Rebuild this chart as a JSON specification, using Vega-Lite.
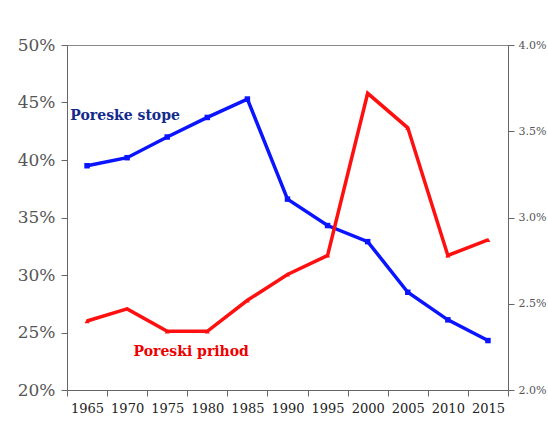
{
  "$schema": "https://vega.github.io/schema/vega-lite/v6.json",
  "autosize": {"type": "none"},
  "width": 441,
  "height": 345,
  "padding": {"left": 67, "top": 45, "right": 40, "bottom": 52},
  "background": "white",
  "config": {
    "font": "DejaVu Serif",
    "view": {"stroke": "#888", "strokeWidth": 1},
    "axis": {"grid": false, "labelFont": "DejaVu Serif", "domainColor": "#666", "tickColor": "#666", "tickSize": 6, "title": null}
  },
  "data": {
    "values": [
      {"year": "1965", "stope": 0.395, "prihod": 0.0240},
      {"year": "1970", "stope": 0.402, "prihod": 0.0247},
      {"year": "1975", "stope": 0.420, "prihod": 0.0234},
      {"year": "1980", "stope": 0.437, "prihod": 0.0234},
      {"year": "1985", "stope": 0.453, "prihod": 0.0252},
      {"year": "1990", "stope": 0.366, "prihod": 0.0267},
      {"year": "1995", "stope": 0.343, "prihod": 0.0278},
      {"year": "2000", "stope": 0.329, "prihod": 0.0372},
      {"year": "2005", "stope": 0.285, "prihod": 0.0352},
      {"year": "2010", "stope": 0.261, "prihod": 0.0278},
      {"year": "2015", "stope": 0.243, "prihod": 0.0287}
    ]
  },
  "encoding": {
    "x": {
      "field": "year", "type": "ordinal", "bandPosition": 0.5,
      "scale": {"type": "band", "paddingInner": 0, "paddingOuter": 0},
      "axis": {"tickBand": "extent", "labelAngle": 0, "labelFontSize": 13, "labelColor": "#222", "labelPadding": 6}
    }
  },
  "layer": [
    {
      "layer": [
        {
          "mark": {"type": "line", "color": "#0a14ff", "strokeWidth": 3.5, "point": {"shape": "square", "size": 30, "filled": true, "color": "#0a14ff"}},
          "encoding": {
            "y": {"field": "stope", "type": "quantitative", "scale": {"domain": [0.2, 0.5], "nice": false},
              "axis": {"orient": "left", "values": [0.2, 0.25, 0.3, 0.35, 0.4, 0.45, 0.5], "format": ".0%", "labelFontSize": 17, "labelColor": "#555", "labelPadding": 6}}
          }
        },
        {
          "data": {"values": [{"year": "1970", "label": "Poreske stope", "v": 0.438}]},
          "mark": {"type": "text", "font": "DejaVu Serif", "fontSize": 14, "fontWeight": "bold", "color": "#132a8c", "dx": -2},
          "encoding": {"text": {"field": "label"}, "y": {"field": "v", "type": "quantitative"}}
        }
      ]
    },
    {
      "layer": [
        {
          "mark": {"type": "line", "color": "#ff1010", "strokeWidth": 3.5, "point": {"shape": "triangle-up", "size": 25, "filled": true, "color": "#ff1010"}},
          "encoding": {
            "y": {"field": "prihod", "type": "quantitative", "scale": {"domain": [0.02, 0.04], "nice": false},
              "axis": {"orient": "right", "values": [0.02, 0.025, 0.03, 0.035, 0.04], "format": ".1%", "labelFontSize": 11, "labelColor": "#555", "labelPadding": 4}}
          }
        },
        {
          "data": {"values": [{"year": "1975", "label": "Poreski prihod", "v": 0.0222}]},
          "mark": {"type": "text", "font": "DejaVu Serif", "fontSize": 14, "fontWeight": "bold", "color": "#ee0000", "dx": 24},
          "encoding": {"text": {"field": "label"}, "y": {"field": "v", "type": "quantitative"}}
        }
      ]
    }
  ],
  "resolve": {"scale": {"y": "independent"}}
}
